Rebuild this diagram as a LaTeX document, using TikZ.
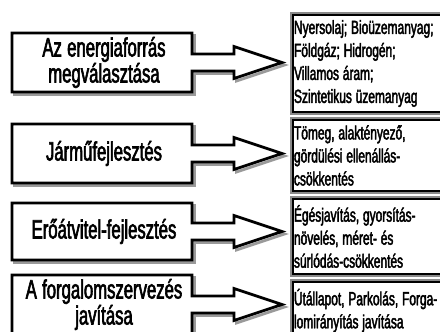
\documentclass[tikz,border=0pt]{standalone}
\usepackage{fontspec}
\setmainfont[FakeStretch=0.63,FakeBold=2.2]{Liberation Sans}
\usetikzlibrary{calc,backgrounds}
\definecolor{shade}{HTML}{9A9A9A}
\definecolor{rim}{HTML}{8A8A8A}

\begin{document}
\begin{tikzpicture}[x=1pt,y=-1pt,
    srcbox/.style={minimum width=180pt, inner sep=0pt, outer sep=0pt, align=center,
      font=\fontsize{26.5}{26}\selectfont, execute at begin node={\spaceskip=0.2em\relax}},
    resbox/.style={anchor=north west, minimum width=172pt, text width=166pt,
      inner xsep=3pt, inner ysep=0pt, align=left, draw=rim, line width=2pt,
      font=\fontsize{19}{23}\selectfont, execute at begin node={\spaceskip=0.2em\relax}},
    blockarrow/.style={draw, line width=2.7pt, fill=white, line join=miter,
      preaction={draw=shade, line width=2.7pt,
        transform canvas={xshift=2.5pt, yshift=-2.5pt}}}]
  \useasboundingbox (0,0) rectangle (440,332);
  \begin{scope}[on background layer]
    \fill[white] (0,0) rectangle (440,332);
  \end{scope}
  % results, right column
  \foreach[count=\i] \yt/\yb/\txt in
      {12/113/{Nyersolaj; Bioüzemanyag;\\Földgáz; Hidrogén;\\Villamos áram;\\Szintetikus üzemanyag},
       117/192/{Tömeg, alaktényező,\\gördülési ellenállás-\\csökkentés},
       196/275/{Égésjavítás, gyorsítás-\\növelés, méret- és\\súrlódás-csökkentés},
       279/340/{Útállapot, Parkolás, Forga-\\lomirányítás javítása}} {
    \node[resbox, minimum height={\yb pt-\yt pt}] (res\i) at (290,\yt) {\txt};
    \draw[line width=1.3pt] ([shift={(3,3)}]res\i.north west)
      rectangle ([shift={(-3,-3)}]res\i.south east);
  }
  % measures with block arrows
  \foreach[count=\i] \yt/\yb/\txt in
      {33/92/{Az energiaforrás\\megválasztása},
       124/183/{Járműfejlesztés},
       203/260/{Erőátvitel-fejlesztés},
       275/334/{A forgalomszervezés\\javítása}} {
    \node[srcbox, minimum height={\yb pt-\yt pt}] (src\i) at (104,{(\yt+\yb)/2}) {\txt};
    \coordinate (tip\i) at ($(res\i.west |- src\i.east)+(-8,0)$);
    \begin{scope}[on background layer]
      \draw[blockarrow] ([xshift=-2pt]src\i.north west) -- ([xshift=-2pt]src\i.north east)
        -- ($(src\i.east)+(-2,-8.5)$) -- ($(tip\i)+(-48,-8.5)$) -- ($(tip\i)+(-48,-16)$)
        -- (tip\i) -- ($(tip\i)+(-48,16)$) -- ($(tip\i)+(-48,8.5)$)
        -- ($(src\i.east)+(-2,8.5)$) -- ([xshift=-2pt]src\i.south east)
        -- ([xshift=-2pt]src\i.south west) -- cycle;
    \end{scope}
  }
\end{tikzpicture}
\end{document}
